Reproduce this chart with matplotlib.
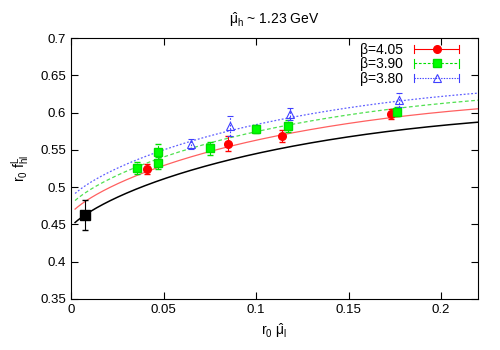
import numpy as np
import matplotlib
matplotlib.use("Agg")
import matplotlib.pyplot as plt
from matplotlib.legend_handler import HandlerBase
from matplotlib.lines import Line2D

plt.rcParams['font.family'] = ['Liberation Sans', 'DejaVu Sans']
plt.rcParams['mathtext.fontset'] = 'custom'
plt.rcParams['mathtext.rm'] = 'Liberation Sans'
plt.rcParams['mathtext.it'] = 'Liberation Sans'

# data
x_405 = [0.0409, 0.0850, 0.1142, 0.1728]
y_405 = [0.524, 0.558, 0.569, 0.598]
e_405 = [0.007, 0.010, 0.008, 0.007]

x_390 = [0.0355, 0.0468, 0.0468, 0.0751, 0.1000, 0.1175, 0.1762]
y_390 = [0.526, 0.533, 0.547, 0.552, 0.578, 0.582, 0.601]
e_390 = [0.008, 0.008, 0.011, 0.009, 0.005, 0.008, 0.006]

x_380 = [0.0647, 0.0861, 0.1184, 0.1775]
y_380 = [0.558, 0.582, 0.598, 0.617]
e_380 = [0.007, 0.013, 0.008, 0.010]

x_cont = [0.0076]
y_cont = [0.4627]
e_cont = [0.020]

# fit: y = a + b*x + c*x*ln(x), plus a constant lattice shift per beta
fit_a, fit_b, fit_c = 0.4467, -0.0216, -0.436
shift_405, shift_390, shift_380 = 0.018, 0.0295, 0.039

xf = np.linspace(0.0022, 0.22, 300)
yf = fit_a + fit_b * xf + fit_c * xf * np.log(xf)


class GnuplotBar(HandlerBase):
    # horizontal line with end caps and the marker in the middle
    def create_artists(self, legend, orig, xd, yd, w, h, fs, trans):
        data_line = orig[0]
        bar = orig[2][0]
        col = bar.get_color()[0]
        ls = bar.get_linestyle()[0]
        y = yd + h / 2
        line = Line2D([xd, xd + w], [y, y], color=col, lw=0.8, linestyle=ls)
        c1 = Line2D([xd, xd], [y - 3, y + 3], color=col, lw=0.8)
        c2 = Line2D([xd + w, xd + w], [y - 3, y + 3], color=col, lw=0.8)
        mk = Line2D([xd + w / 2], [y], marker=data_line.get_marker(), ls='none',
                    ms=data_line.get_markersize(), mfc=data_line.get_markerfacecolor(),
                    mec=data_line.get_markeredgecolor(), mew=data_line.get_markeredgewidth())
        arts = [line, c1, c2, mk]
        for a in arts:
            a.set_transform(trans)
        return arts


fig = plt.figure(figsize=(5, 3.5), dpi=100)
ax = fig.add_axes([0.142, 0.146, 0.814, 0.745])

ax.plot(xf, yf + shift_380, color='#6060ff', lw=0.9, ls=(0, (1.5, 1.5)))
ax.plot(xf, yf + shift_390, color='#50e050', lw=0.9, ls=(0, (3, 2)))
ax.plot(xf, yf + shift_405, color='#ff6060', lw=0.9)
ax.plot(xf, yf, color='black', lw=1.1)

e1 = ax.errorbar(x_405, y_405, yerr=e_405, fmt='o', color='#ff0000', ms=5.5,
                 capsize=2.5, elinewidth=0.8, label='β=4.05')
e2 = ax.errorbar(x_390, y_390, yerr=e_390, fmt='s', color='#00e000', mfc='#00ff00',
                 mec='#00dd00', ms=6, capsize=2.5, elinewidth=0.8, label='β=3.90')
e2[-1][0].set_linestyle((0, (3, 2)))
e3 = ax.errorbar(x_380, y_380, yerr=e_380, fmt='^', color='#4040ff', mfc='none',
                 ms=6, mew=0.8, capsize=2.5, elinewidth=0.8, label='β=3.80')
e3[-1][0].set_linestyle((0, (1.5, 1.5)))
ax.errorbar(x_cont, y_cont, yerr=e_cont, fmt='s', color='black', ms=7,
            capsize=2.5, elinewidth=0.8)

ax.set_xlim(0, 0.22)
ax.set_ylim(0.35, 0.7)
ax.set_xticks([0, 0.05, 0.1, 0.15, 0.2])
ax.set_xticklabels(['0', '0.05', '0.1', '0.15', '0.2'])
ax.set_yticks(np.arange(0.35, 0.701, 0.05))
ax.set_yticklabels(['0.35', '0.4', '0.45', '0.5', '0.55', '0.6', '0.65', '0.7'])
ax.tick_params(direction='in', top=True, right=True, length=5, labelsize=9.5)

ax.set_title(r'$\hat{\mu}_{\rm h}$ ~ 1.23 GeV', fontsize=10, pad=10)
ax.set_xlabel(r'r$_0$ $\hat{\mu}_{\rm l}$', fontsize=10, labelpad=4)
ax.set_ylabel(r'r$_0$ f$^{\rm L}_{\rm hl}$', fontsize=10, labelpad=6)

ax.legend(handles=[e1, e2, e3], handler_map={type(e1): GnuplotBar()},
          loc='upper right', bbox_to_anchor=(0.975, 1.015), frameon=False,
          fontsize=10, markerfirst=False, handlelength=3.3, handletextpad=0.8,
          borderaxespad=0.2, labelspacing=0.05)

fig.savefig('out.png', dpi=100)
